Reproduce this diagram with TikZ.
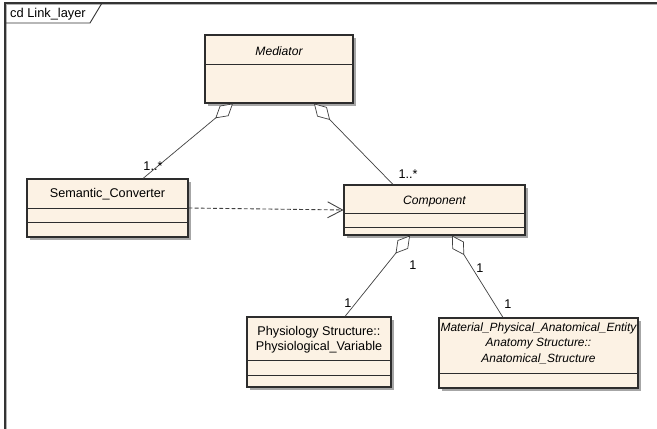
\documentclass[tikz,border=0pt]{standalone}
\usepackage{fontspec}
\setmainfont{Liberation Sans}
\usetikzlibrary{calc, arrows.meta, shadows}
\def\fs{\fontsize{7.2}{8.6}\selectfont}
\def\fsit{\fontsize{6.9}{8.8}\selectfont\itshape}
\definecolor{boxfill}{RGB}{252,242,228}
\definecolor{boxline}{RGB}{45,45,45}
\tikzset{cls/.style={draw=boxline, fill=boxfill, line width=0.6pt, inner sep=0pt,
  drop shadow={shadow xshift=0.06cm, shadow yshift=-0.06cm, fill=black!35, opacity=1}}}
\tikzset{ttl/.style={font=\fs, align=center, inner sep=0pt}}
\tikzset{cpt/.style={boxline, line width=0.6pt}}
\tikzset{aggr/.style={black!75, line width=0.4pt, {Diamond[fill=white, length=0.46cm, width=0.27cm]}-}}
\tikzset{dep/.style={black!75, line width=0.5pt, dash pattern=on 2.2pt off 1.3pt,
  -{Straight Barb[length=0.3cm, width=0.32cm]}}}
\tikzset{mult/.style={font=\fs, inner sep=0pt}}
\tikzset{frm/.style={black!80, line width=0.9pt}}

\begin{document}
\begin{tikzpicture}[x=0.02cm, y=-0.02cm]
  \useasboundingbox (0,0) rectangle (657,429);
  % Frame
  \draw[black!30, line width=0.6pt] (657,4.6) -- (6.6,4.6) -- (6.6,429);
  \draw[frm] (657,3) -- (5,3) -- (5,429);
  \draw[black!80, line width=0.5pt] (5,23) -- (90,23) -- (102,3);
  \node[ttl, font=\fontsize{7.3}{8.6}\selectfont] (frame) at (48,14) {cd Link\_layer};

  % Classes
  \node[cls, minimum width=2.96cm, minimum height=1.36cm] (med) at (279,69) {};
  \node[ttl, font=\fsit] (med-t) at ([yshift=-0.34cm]med.north) {Mediator};
  \draw[cpt] ([yshift=-0.6cm]med.north west) -- ([yshift=-0.6cm]med.north east);

  \node[cls, minimum width=3.22cm, minimum height=1.16cm] (sem) at (107.5,208) {};
  \node[ttl] (sem-t) at ([yshift=-0.32cm]sem.north) {Semantic\_Converter};
  \draw[cpt] ([yshift=-0.6cm]sem.north west) -- ([yshift=-0.6cm]sem.north east);
  \draw[cpt] ([yshift=-0.88cm]sem.north west) -- ([yshift=-0.88cm]sem.north east);

  \node[cls, minimum width=3.62cm, minimum height=1.0cm] (comp) at (434.5,210) {};
  \node[ttl, font=\fsit] (comp-t) at ([yshift=-0.34cm]comp.north) {Component};
  \draw[cpt] ([yshift=-0.58cm]comp.north west) -- ([yshift=-0.58cm]comp.north east);
  \draw[cpt] ([yshift=-0.86cm]comp.north west) -- ([yshift=-0.86cm]comp.north east);

  \node[cls, minimum width=2.88cm, minimum height=1.4cm] (phys) at (319,352) {};
  \node[ttl] (phys-t) at ([yshift=-0.47cm]phys.north) {Physiology Structure::\\Physiological\_Variable};
  \draw[cpt] ([yshift=-0.88cm]phys.north west) -- ([yshift=-0.88cm]phys.north east);
  \draw[cpt] ([yshift=-1.18cm]phys.north west) -- ([yshift=-1.18cm]phys.north east);

  \node[cls, minimum width=3.98cm, minimum height=1.4cm] (anat) at (538.5,353) {};
  \node[ttl, font=\fontsize{6.8}{8.8}\selectfont\itshape] (anat-t) at ([yshift=-0.51cm]anat.north)
    {Material\_Physical\_Anatomical\_Entity\\Anatomy Structure::\\Anatomical\_Structure};
  \draw[cpt] ([yshift=-1.12cm]anat.north west) -- ([yshift=-1.12cm]anat.north east);

  % Connector ends
  \coordinate (med-l) at ([xshift=-0.92cm]med.south);
  \coordinate (med-r) at ([xshift=0.7cm]med.south);
  \coordinate (sem-a) at ([xshift=0.71cm]sem.north);
  \coordinate (comp-a) at ([xshift=-0.83cm]comp.north);
  \coordinate (comp-l) at ([xshift=-0.49cm]comp.south);
  \coordinate (comp-r) at ([xshift=0.35cm]comp.south);
  \coordinate (phys-a) at ([xshift=0.52cm]phys.north);
  \coordinate (anat-a) at ([xshift=-0.71cm]anat.north);

  % Aggregations
  \draw[aggr] (med-l) -- (sem-a);
  \draw[aggr] (med-r) -- (comp-a);
  \draw[aggr] (comp-l) -- (phys-a);
  \draw[aggr] (comp-r) -- (anat-a);
  \draw[dep] (sem.east) -- (comp.west);

  % Multiplicities
  \node[mult] (m-sem) at ([shift={(10,-12)}]sem-a) {1..*};
  \node[mult] (m-comp) at ([shift={(15,-10)}]comp-a) {1..*};
  \node[mult] (m-cl) at ([shift={(3,30)}]comp-l) {1};
  \node[mult] (m-phys) at ([shift={(3,-13)}]phys-a) {1};
  \node[mult] (m-cr) at ([shift={(28,33)}]comp-r) {1};
  \node[mult] (m-anat) at ([shift={(5,-13)}]anat-a) {1};
\end{tikzpicture}
\end{document}
